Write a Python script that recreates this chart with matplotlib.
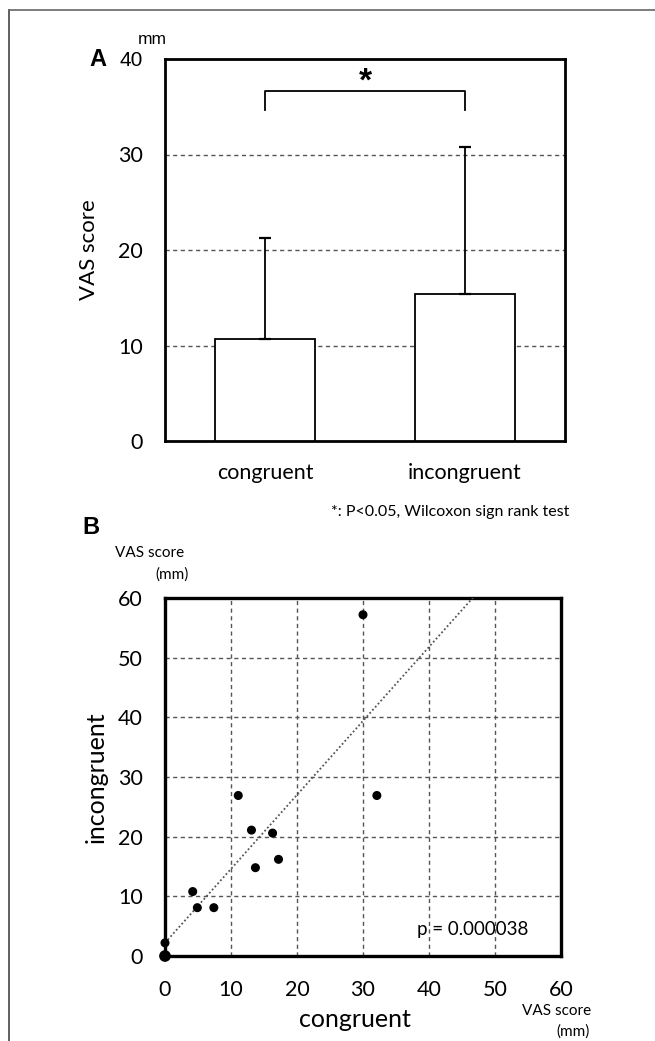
import numpy as np
import matplotlib.pyplot as plt
from matplotlib.lines import Line2D

# パネルA: 平均値と標準偏差
groups = ["congruent", "incongruent"]
means = [10.7, 15.4]
sds = [10.6, 15.4]
a_ticks = [0, 10, 20, 30, 40]

# パネルB: 個別のVASスコア
cong = [0, 0, 4.2, 4.9, 7.4, 11.1, 13.1, 13.7, 16.3, 17.2, 30.0, 32.1]
incong = [0, 2.2, 10.8, 8.1, 8.1, 26.9, 21.1, 14.8, 20.6, 16.2, 57.2, 26.9]
trend_slope = 1.24
trend_intercept = 2.2
b_ticks = [0, 10, 20, 30, 40, 50, 60]
p_text = "p = 0.000038"

W, H = 655, 1041
plt.rcParams['font.family'] = ['Lato', 'DejaVu Sans']

fig = plt.figure(figsize=(W / 100, H / 100), dpi=100)

def px(x, y):
    return x / W, 1 - y / H

# 外枠（左と上）
fig.add_artist(Line2D([9 / W, 9 / W], [0, 1 - 10 / H], color="#444444", lw=1.2))
fig.add_artist(Line2D([9 / W, 1], [1 - 10 / H, 1 - 10 / H], color="#666666", lw=1.2))

grid_kw = dict(color="#555555", lw=1.0, ls=(0, (3, 2.5)))

# ---- A ----
axA = fig.add_axes([165 / W, 1 - 441 / H, 400 / W, 382 / H])
xpos = np.arange(len(groups))
axA.bar(xpos, means, width=0.5, color="white", edgecolor="black", lw=1.3, zorder=3)
axA.errorbar(xpos, means, yerr=[np.zeros(len(sds)), sds], fmt="none", ecolor="black",
             elinewidth=1.3, capsize=4, capthick=1.6, zorder=4)
axA.set_xlim(-0.5, 1.5)
axA.set_ylim(0, 40)
axA.set_yticks(a_ticks)
axA.set_xticks(xpos)
axA.set_xticklabels(groups)
axA.yaxis.grid(True, **grid_kw)
axA.set_axisbelow(True)
axA.tick_params(length=0, labelsize=15.5)
axA.tick_params(axis="y", pad=16)
axA.tick_params(axis="x", pad=16)
for sp in axA.spines.values():
    sp.set_linewidth(2.0)
axA.set_ylabel("VAS score", fontsize=16)
axA.yaxis.set_label_coords(-0.165, 0.5)
lab40 = axA.get_yticklabels()[-1]
lab40.set_fontfamily("Liberation Sans")
lab40.set_fontsize(15)

# 有意差ブラケット
axA.plot([0, 0, 1, 1], [34.7, 36.6, 36.6, 34.7], color="black", lw=1.3, zorder=5)
axA.text(0.5, 37.6, "*", ha="center", va="center", fontsize=24, fontweight="bold",
         fontfamily="Liberation Sans")

fig.text(*px(106, 60), "A", fontsize=17, fontweight="bold", fontfamily="Liberation Sans",
         ha="right", va="center")
fig.text(*px(152, 39), "mm", fontsize=12.5, fontfamily="Liberation Sans", ha="center", va="center")
fig.text(*px(569, 512), "*: P<0.05, Wilcoxon sign rank test", fontsize=11.5, ha="right", va="center")

# ---- B ----
axB = fig.add_axes([165 / W, 1 - 956 / H, 396 / W, 358 / H])
xl = np.array([0, 60])
axB.plot(xl, trend_intercept + trend_slope * xl, color="#555555", lw=1.3, ls=(0, (1, 1.3)), zorder=3)
sizes = [55] + [30] * (len(cong) - 1)
axB.scatter(cong, incong, s=sizes, color="black", zorder=4, clip_on=False)
axB.set_xlim(0, 60)
axB.set_ylim(0, 60)
axB.set_xticks(b_ticks)
axB.set_yticks(b_ticks)
axB.grid(True, **grid_kw)
axB.set_axisbelow(True)
axB.tick_params(length=0, labelsize=15.5)
axB.tick_params(axis="y", pad=16)
axB.tick_params(axis="x", pad=17)
for sp in axB.spines.values():
    sp.set_linewidth(2.4)
axB.set_xlabel("congruent", fontsize=18)
axB.xaxis.set_label_coords(0.48, -0.145)
axB.set_ylabel("incongruent", fontsize=18)
axB.yaxis.set_label_coords(-0.145, 0.5)
axB.text(0.918, 0.075, p_text, transform=axB.transAxes, fontsize=13.5, ha="right", va="center")

fig.text(*px(82, 528), "B", fontsize=17, fontweight="bold", fontfamily="Liberation Sans",
         ha="left", va="center")
fig.text(*px(150, 553), "VAS score", fontsize=11, ha="center", va="center")
fig.text(*px(172, 575), "(mm)", fontsize=11, ha="center", va="center")
fig.text(*px(557, 1011), "VAS score", fontsize=11, ha="center", va="center")
fig.text(*px(573, 1032), "(mm)", fontsize=11, ha="center", va="center")

fig.savefig("out.png", dpi=100)
